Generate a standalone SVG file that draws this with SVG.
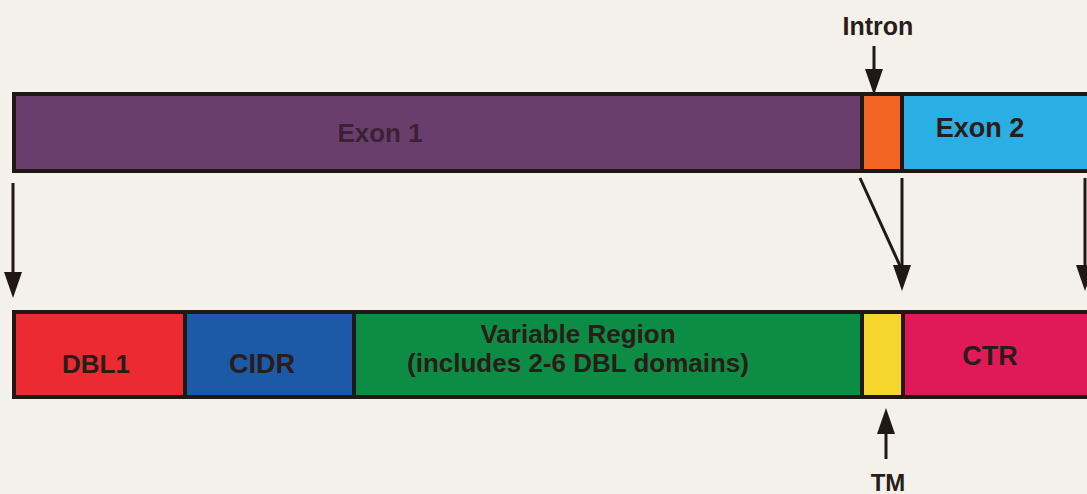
<svg xmlns="http://www.w3.org/2000/svg" width="1087" height="494" viewBox="0 0 1087 494">
<defs>
<style>
.seg{stroke:#201814;stroke-width:4}
.lbl{font-family:"Liberation Sans",Arial,sans-serif;font-weight:bold;fill:#2a1c18;text-anchor:middle}
.ln{stroke:#201814;stroke-width:3;fill:none}
</style>
<path id="head" d="M-9,-26 L9,-26 L0,0 z" fill="#201814"/>
</defs>
<rect width="1087" height="494" fill="#f3f1ea"/>
<g id="gene">
<g id="exon1"><rect class="seg" x="14" y="94" width="848" height="77" fill="#6a3e6c"/><text class="lbl" x="380" y="142" font-size="26" style="fill:#3a2234">Exon 1</text></g>
<g id="intron"><rect class="seg" x="862" y="94" width="40" height="77" fill="#f26522"/></g>
<g id="exon2"><rect class="seg" x="902" y="94" width="190" height="77" fill="#2aaee3"/><text class="lbl" x="980" y="137" font-size="27">Exon 2</text></g>
</g>
<g id="protein">
<g id="dbl1"><rect class="seg" x="14" y="312" width="171" height="85" fill="#ec2a32"/><text class="lbl" x="96" y="373" font-size="26">DBL1</text></g>
<g id="cidr"><rect class="seg" x="185" y="312" width="169" height="85" fill="#1c5aa8"/><text class="lbl" x="262" y="373" font-size="27">CIDR</text></g>
<g id="variable"><rect class="seg" x="354" y="312" width="508" height="85" fill="#0c8c44"/><text class="lbl" x="578" y="343" font-size="26">Variable Region</text><text class="lbl" x="578" y="372" font-size="26">(includes 2-6 DBL domains)</text></g>
<g id="tm"><rect class="seg" x="862" y="312" width="41" height="85" fill="#f6d62c"/></g>
<g id="ctr"><rect class="seg" x="903" y="312" width="189" height="85" fill="#e01a58"/><text class="lbl" x="990" y="365" font-size="27">CTR</text></g>
</g>
<g id="labels">
<text class="lbl" x="878" y="35" font-size="25">Intron</text>
<text class="lbl" x="888" y="491" font-size="24">TM</text>
</g>
<g id="connectors">
<line class="ln" x1="874" y1="46" x2="874" y2="72"/>
<use href="#head" x="874" y="95"/>
<line class="ln" x1="13" y1="183" x2="13" y2="272"/>
<use href="#head" x="13" y="298"/>
<line class="ln" x1="860" y1="178" x2="901" y2="268"/>
<line class="ln" x1="902" y1="178" x2="902" y2="266"/>
<use href="#head" x="902" y="291"/>
<line class="ln" x1="1085" y1="178" x2="1085" y2="266"/>
<use href="#head" x="1085" y="291"/>
<line class="ln" x1="886" y1="459" x2="886" y2="430"/>
<use href="#head" x="886" y="408" transform="rotate(180 886 408)"/>
</g>
</svg>
